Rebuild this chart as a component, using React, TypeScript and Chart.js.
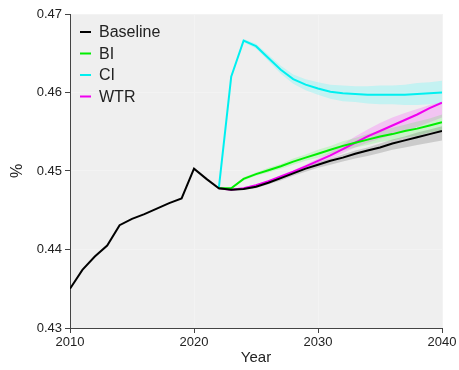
import React, { useEffect, useRef } from "react";
import { Chart, registerables } from "chart.js";

Chart.register(...registerables);

const histYears = [2010, 2011, 2012, 2013, 2014, 2015, 2016, 2017, 2018, 2019, 2020, 2021];
const baselineHist = [0.4350, 0.4374, 0.4391, 0.4405, 0.4431, 0.4439, 0.4445, 0.4452, 0.4459, 0.4465, 0.4503, 0.4490];

const projYears = [2022, 2023, 2024, 2025, 2026, 2027, 2028, 2029, 2030, 2031, 2032, 2033, 2034, 2035, 2036, 2037, 2038, 2039, 2040];
const baseline = [0.4478, 0.4476, 0.4477, 0.4480, 0.4485, 0.4491, 0.4497, 0.4503, 0.4508, 0.4513, 0.4517, 0.4522, 0.4526, 0.4530, 0.4535, 0.4539, 0.4543, 0.4547, 0.4551];
const bi = [0.4478, 0.4478, 0.4490, 0.4496, 0.4501, 0.4506, 0.4512, 0.4517, 0.4522, 0.4527, 0.4532, 0.4536, 0.4540, 0.4544, 0.4547, 0.4551, 0.4554, 0.4558, 0.4562];
const ci = [0.4478, 0.4620, 0.4666, 0.4659, 0.4644, 0.4629, 0.4617, 0.4610, 0.4605, 0.4601, 0.4599, 0.4598, 0.4597, 0.4597, 0.4597, 0.4597, 0.4598, 0.4599, 0.4600];
const wtr = [0.4478, 0.4476, 0.4478, 0.4482, 0.4487, 0.4493, 0.4499, 0.4506, 0.4513, 0.4520, 0.4528, 0.4536, 0.4544, 0.4551, 0.4558, 0.4565, 0.4572, 0.4580, 0.4587];

// uncertainty band offsets (above / below the line)
const baselineUp = [0, 0.0001, 0.0001, 0.0001, 0.0002, 0.0002, 0.0002, 0.0003, 0.0003, 0.0003, 0.0004, 0.0004, 0.0004, 0.0005, 0.0005, 0.0005, 0.0006, 0.0006, 0.0006];
const baselineDn = [0, 0.0001, 0.0001, 0.0002, 0.0002, 0.0003, 0.0003, 0.0004, 0.0004, 0.0005, 0.0005, 0.0006, 0.0007, 0.0007, 0.0008, 0.0009, 0.0010, 0.0011, 0.0012];
const biUp = [0, 0.0001, 0.0002, 0.0002, 0.0003, 0.0003, 0.0004, 0.0004, 0.0005, 0.0005, 0.0006, 0.0006, 0.0007, 0.0007, 0.0008, 0.0008, 0.0009, 0.0009, 0.0010];
const biDn = [0, 0.0001, 0.0002, 0.0002, 0.0003, 0.0003, 0.0004, 0.0004, 0.0005, 0.0005, 0.0006, 0.0006, 0.0007, 0.0007, 0.0008, 0.0008, 0.0009, 0.0009, 0.0010];
const ciUp = [0, 0.0001, 0.0002, 0.0003, 0.0004, 0.0005, 0.0006, 0.0007, 0.0008, 0.0009, 0.0010, 0.0010, 0.0011, 0.0012, 0.0012, 0.0013, 0.0014, 0.0014, 0.0015];
const ciDn = [0, 0.0001, 0.0002, 0.0003, 0.0004, 0.0005, 0.0006, 0.0007, 0.0008, 0.0009, 0.0010, 0.0010, 0.0011, 0.0012, 0.0012, 0.0013, 0.0014, 0.0014, 0.0015];
const wtrUp = [0, 0, 0.0001, 0.0001, 0.0001, 0.0002, 0.0002, 0.0002, 0.0003, 0.0004, 0.0006, 0.0008, 0.0009, 0.0010, 0.0010, 0.0009, 0.0007, 0.0004, 0.0001];
const wtrDn = [0, 0, 0.0001, 0.0001, 0.0001, 0.0002, 0.0002, 0.0002, 0.0003, 0.0004, 0.0005, 0.0006, 0.0008, 0.0010, 0.0012, 0.0014, 0.0016, 0.0018, 0.0019];

const seriesNames = ["Baseline", "BI", "CI", "WTR"];
const lineColors = ["#000000", "#00ee00", "#00f0f0", "#f000f0"];
const bandColors = ["rgba(0,0,0,0.15)", "rgba(0,255,0,0.15)", "rgba(0,255,255,0.18)", "rgba(255,0,255,0.18)"];

const xTicks = [2010, 2020, 2030, 2040];
const yTicks = [0.43, 0.44, 0.45, 0.46, 0.47];

const FONT = "'Liberation Sans', Arial, Helvetica, sans-serif";

export default function App() {
  const canvasRef = useRef<HTMLCanvasElement | null>(null);

  useEffect(() => {
    document.body.style.margin = "0";
    const canvas = canvasRef.current;
    if (!canvas) return;

    const pts = (xs: number[], ys: number[]) => xs.map((x, i) => ({ x, y: ys[i] }));
    const projs = [baseline, bi, ci, wtr];
    const ups = [baselineUp, biUp, ciUp, wtrUp];
    const dns = [baselineDn, biDn, ciDn, wtrDn];

    const lineDatasets: any[] = projs.map((vals, i) => ({
      label: seriesNames[i],
      data: i === 0 ? pts([...histYears, ...projYears], [...baselineHist, ...vals]) : pts(projYears, vals),
      borderColor: lineColors[i],
      backgroundColor: lineColors[i],
      borderWidth: 2,
      pointRadius: 0,
      fill: false,
      order: i,
      tension: 0,
    }));

    const bandDatasets: any[] = [];
    projs.forEach((vals, i) => {
      bandDatasets.push({
        label: "_band_lo_" + i,
        data: pts(projYears, vals.map((v, k) => v - dns[i][k])),
        borderWidth: 0,
        borderColor: "rgba(0,0,0,0)",
        pointRadius: 0,
        fill: false,
        order: 10,
      });
      bandDatasets.push({
        label: "_band_hi_" + i,
        data: pts(projYears, vals.map((v, k) => v + ups[i][k])),
        borderWidth: 0,
        borderColor: "rgba(0,0,0,0)",
        backgroundColor: bandColors[i],
        pointRadius: 0,
        fill: "-1",
        order: 10,
      });
    });

    const bgPlugin = {
      id: "plotBg",
      beforeDraw(chart: any) {
        const { ctx, chartArea } = chart;
        ctx.save();
        ctx.fillStyle = "#efefef";
        ctx.fillRect(chartArea.left, chartArea.top, chartArea.right - chartArea.left, chartArea.bottom - chartArea.top);
        ctx.restore();
      },
    };

    const legendPlugin = {
      id: "insideLegend",
      afterDraw(chart: any) {
        const { ctx } = chart;
        ctx.save();
        ctx.font = "16px " + FONT;
        ctx.textBaseline = "middle";
        ctx.textAlign = "left";
        seriesNames.forEach((name, i) => {
          const y = 32 + i * 21.5;
          ctx.strokeStyle = lineColors[i];
          ctx.lineWidth = 2;
          ctx.beginPath();
          ctx.moveTo(80, y);
          ctx.lineTo(91, y);
          ctx.stroke();
          ctx.fillStyle = "#222";
          ctx.fillText(name, 99, y + 1);
        });
        ctx.restore();
      },
    };

    const chart = new Chart(canvas, {
      type: "line",
      data: { datasets: [...lineDatasets, ...bandDatasets] },
      options: {
        animation: false,
        responsive: false,
        devicePixelRatio: 1,
        layout: { padding: { top: 14, right: 17, left: 0, bottom: 0 } },
        plugins: {
          legend: { display: false },
          tooltip: { enabled: false },
        },
        scales: {
          x: {
            type: "linear",
            min: 2010,
            max: 2040,
            afterFit: (s: any) => { s.height = 42; },
            afterBuildTicks: (s: any) => { s.ticks = xTicks.map((v) => ({ value: v })); },
            ticks: {
              callback: (v: any) => String(v),
              font: { size: 13, family: FONT },
              color: "#222",
              padding: 2,
              maxRotation: 0,
            },
            grid: { color: "#f3f3f3", tickColor: "#444", tickLength: 5, lineWidth: 1 },
            border: { color: "#444", width: 1 },
            title: { display: true, text: "Year", font: { size: 15, family: FONT }, color: "#222", padding: { top: 0, bottom: 3 } },
          },
          y: {
            type: "linear",
            min: 0.43,
            max: 0.47,
            afterFit: (s: any) => { s.width = 70; },
            afterBuildTicks: (s: any) => { s.ticks = yTicks.map((v) => ({ value: v })); },
            ticks: {
              callback: (v: any) => Number(v).toFixed(2),
              font: { size: 13, family: FONT },
              color: "#222",
              padding: 3,
            },
            grid: { color: "#f3f3f3", tickColor: "#444", tickLength: 5, lineWidth: 1 },
            border: { color: "#444", width: 1 },
            title: { display: true, text: "%", font: { size: 16, family: FONT }, color: "#222", padding: { top: 8, bottom: 0 } },
          },
        },
      } as any,
      plugins: [bgPlugin, legendPlugin],
    });

    return () => chart.destroy();
  }, []);

  return (
    <div style={{ width: 459, height: 370, position: "relative" }}>
      <canvas ref={canvasRef} width={459} height={370} style={{ width: 459, height: 370, display: "block" }} />
    </div>
  );
}
